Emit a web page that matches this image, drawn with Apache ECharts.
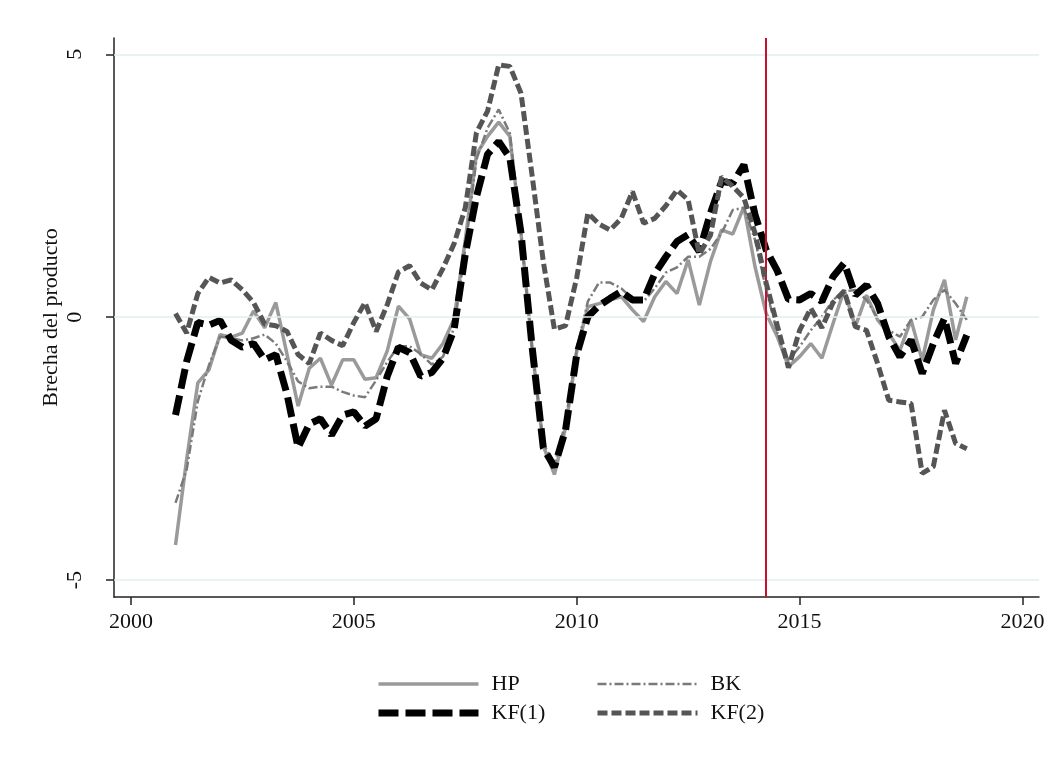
<!DOCTYPE html>
<html>
<head>
<meta charset="utf-8">
<script src="https://cdn.jsdelivr.net/npm/echarts@6/dist/echarts.min.js"></script>
<style>
  html, body { margin: 0; padding: 0; background: #fff; }
  #chart { width: 1049px; height: 772px; }
</style>
</head>
<body>
<div id="chart"></div>
<script>
// quarterly output gap, 2001q1 .. 2018q4
const startYear = 2001
const hp = [
  -4.33, -2.7, -1.25, -1.0,
  -0.33, -0.38, -0.3, 0.12,
  -0.2, 0.28, -0.7, -1.69,
  -0.97, -0.78, -1.29, -0.81,
  -0.81, -1.18, -1.15, -0.64,
  0.21, -0.03, -0.71, -0.78,
  -0.5, -0.03, 1.47, 3.1,
  3.44, 3.71, 3.44, 1.6,
  -0.6, -2.45, -2.99, -2.1,
  -0.65, 0.2, 0.26, 0.33,
  0.39, 0.14, -0.08, 0.39,
  0.68, 0.45, 1.09, 0.23,
  1.06, 1.66, 1.58, 2.1,
  0.96, 0.07, -0.37, -0.94,
  -0.75, -0.5, -0.78, -0.12,
  0.52, -0.18, 0.42, -0.05,
  -0.31, -0.63, -0.05, -0.82,
  0.14, 0.71, -0.43, 0.39
]
const bk = [
  -3.53, -2.9, -1.6, -0.91,
  -0.37, -0.4, -0.44, -0.4,
  -0.33, -0.5, -0.84, -1.22,
  -1.35, -1.32, -1.32, -1.42,
  -1.49, -1.52, -1.2, -0.85,
  -0.55, -0.55, -0.7, -0.9,
  -0.75, -0.2, 1.3, 3.0,
  3.6, 3.95, 3.5, 1.6,
  -0.6, -2.4, -2.8, -2.0,
  -0.6, 0.3, 0.66, 0.66,
  0.55, 0.35, 0.3, 0.55,
  0.85, 0.95, 1.15, 1.15,
  1.3, 1.6, 2.04, 2.08,
  1.47, 0.52, -0.3, -0.82,
  -0.56, -0.25, 0.01, 0.33,
  0.49, 0.52, 0.33, -0.02,
  -0.25, -0.37, -0.05, 0.01,
  0.33, 0.52, 0.26, -0.05
]
const kf1 = [
  -1.86, -0.84, -0.1, -0.15,
  -0.06, -0.44, -0.57, -0.5,
  -0.81, -0.71, -1.46, -2.48,
  -2.03, -1.93, -2.24, -1.86,
  -1.8, -2.07, -1.93, -1.12,
  -0.57, -0.67, -1.12, -1.05,
  -0.78, -0.23, 1.2, 2.29,
  3.1, 3.34, 3.03, 1.6,
  -0.57, -2.48, -2.85, -2.14,
  -0.71, 0.01, 0.22, 0.36,
  0.49, 0.33, 0.33, 0.83,
  1.15, 1.44, 1.57, 1.25,
  1.98, 2.58, 2.55, 2.9,
  1.95, 1.28, 0.88, 0.34,
  0.33, 0.45, 0.3, 0.77,
  1.03, 0.42, 0.61, 0.26,
  -0.37, -0.75, -0.43, -1.07,
  -0.5, -0.02, -0.88, -0.34
]
const kf2 = [
  0.07, -0.3, 0.45, 0.76,
  0.65, 0.71, 0.52, 0.28,
  -0.13, -0.16, -0.27, -0.71,
  -0.88, -0.3, -0.44, -0.54,
  -0.1, 0.28, -0.27, 0.24,
  0.86, 0.98, 0.65, 0.52,
  0.93, 1.4, 2.08, 3.51,
  3.92, 4.8, 4.77, 4.26,
  2.69, 1.06, -0.23, -0.16,
  0.75, 1.98, 1.77, 1.66,
  1.88, 2.39, 1.79, 1.88,
  2.12, 2.42, 2.23, 1.2,
  1.56, 2.67, 2.49, 2.27,
  1.6, 0.65, -0.16, -0.96,
  -0.25, 0.17, -0.2, 0.28,
  0.5, -0.18, -0.25, -0.88,
  -1.58, -1.61, -1.64, -2.97,
  -2.84, -1.77, -2.4, -2.5
]
const xTicks = [2000, 2005, 2010, 2015, 2020]
const yTicks = [-5, 0, 5]
const breakDate = 2014.25

const font = 'Liberation Serif'
const toPairs = arr => arr.map((v, i) => [startYear + i / 4, v])

// line looks shared by plot and legend
const styles = {
  'HP':    { color: '#9a9a9a', width: 3.5, type: 'solid' },
  'BK':    { color: '#7a7a7a', width: 2.5, type: [9, 3, 2, 3] },
  'KF(1)': { color: '#000000', width: 7,   type: [20, 7] },
  'KF(2)': { color: '#555555', width: 5,   type: [10, 4] },
}

const chart = echarts.init(document.getElementById('chart'))

function lineSeries(name, data, z) {
  const s = styles[name]
  return {
    name,
    type: 'line',
    data: toPairs(data),
    symbol: 'none',
    z,
    lineStyle: { color: s.color, width: s.width, type: s.type },
    itemStyle: { color: s.color },
  }
}

function legendItem(name) {
  const s = styles[name]
  return {
    name,
    lineStyle: { color: s.color, width: s.width, type: s.type },
    itemStyle: { color: 'transparent', borderWidth: 0, opacity: 0 },
  }
}

function legendCol(names, left) {
  return {
    data: names.map(legendItem),
    orient: 'vertical',
    left, top: 673,
    padding: 0,
    itemWidth: 100, itemHeight: 14, itemGap: 7,
    selectedMode: false,
    textStyle: { fontFamily: font, fontSize: 22, color: '#111', padding: [0, 0, 0, 8] },
  }
}

chart.setOption({
  animation: false,
  backgroundColor: '#ffffff',
  grid: { left: 114, right: 10, top: 38, bottom: 175 },
  legend: [legendCol(['HP', 'KF(1)'], 375), legendCol(['BK', 'KF(2)'], 595)],
  xAxis: {
    type: 'value',
    min: 1999.62, max: 2020.37,
    axisLine: { onZero: false, lineStyle: { color: '#222', width: 1.5 } },
    axisTick: { customValues: xTicks, length: 8, lineStyle: { color: '#222', width: 1.5 } },
    axisLabel: {
      customValues: xTicks, margin: 14,
      formatter: v => String(v),
      fontFamily: font, fontSize: 22, color: '#111',
    },
    splitLine: { show: false },
  },
  yAxis: {
    type: 'value',
    min: -5.32, max: 5.31,
    name: 'Brecha del producto',
    nameLocation: 'middle',
    nameGap: 52,
    nameMoveOverlap: false,
    nameTextStyle: { fontFamily: font, fontSize: 22, color: '#111' },
    axisLine: { show: true, onZero: false, lineStyle: { color: '#222', width: 1.5 } },
    axisTick: { show: true, customValues: yTicks, length: 8, lineStyle: { color: '#222', width: 1.5 } },
    axisLabel: {
      customValues: yTicks, rotate: 90, margin: 28,
      formatter: v => String(v),
      fontFamily: font, fontSize: 22, color: '#111',
    },
    splitLine: { show: false },
  },
  series: [
    {
      name: 'grid',
      type: 'line',
      data: [],
      z: 1,
      silent: true,
      markLine: {
        silent: true,
        symbol: 'none',
        label: { show: false },
        lineStyle: { color: '#e4eef0', width: 1.5, type: 'solid' },
        data: yTicks.map(v => ({ yAxis: v })),
      },
    },
    lineSeries('HP', hp, 2),
    lineSeries('BK', bk, 3),
    lineSeries('KF(1)', kf1, 4),
    lineSeries('KF(2)', kf2, 5),
    {
      name: 'break',
      type: 'line',
      data: [],
      z: 6,
      silent: true,
      markLine: {
        silent: true,
        symbol: 'none',
        label: { show: false },
        lineStyle: { color: '#c8102e', width: 2, type: 'solid' },
        data: [{ xAxis: breakDate }],
      },
    },
  ],
})
</script>
</body>
</html>
